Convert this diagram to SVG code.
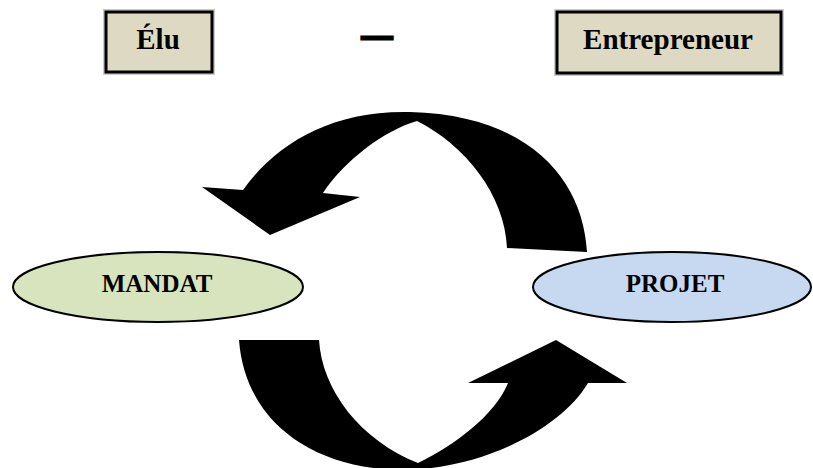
<svg xmlns="http://www.w3.org/2000/svg" width="813" height="468" viewBox="0 0 813 468">
<style>
.box{fill:#ddd9c3;stroke:#000;stroke-width:3}
.lbl{font-family:"Liberation Serif","Times New Roman",serif;font-weight:bold;fill:#000;text-anchor:middle}
.ell{stroke:#000;stroke-width:2}
.arr{fill:#000;stroke:none}
</style>
<rect width="813" height="468" fill="#fff"/>
<g id="elu">
<rect x="106" y="12" width="106" height="60" fill="none" stroke="#ccc" stroke-width="6"/>
<rect class="box" x="106" y="12" width="106" height="60"/>
<text class="lbl" x="158" y="49" font-size="29">Élu</text>
</g>
<g id="dash">
<text class="lbl" x="377" y="45" font-size="30" stroke="#000" stroke-width="3">—</text>
</g>
<g id="entrepreneur">
<rect x="557" y="12" width="224" height="61" fill="none" stroke="#ccc" stroke-width="6"/>
<rect class="box" x="557" y="12" width="224" height="61"/>
<text class="lbl" x="668" y="49" font-size="29" textLength="170" lengthAdjust="spacingAndGlyphs">Entrepreneur</text>
</g>
<g id="mandat">
<ellipse class="ell" cx="158" cy="287" rx="145" ry="35" fill="#d7e4bd"/>
<text class="lbl" x="157" y="292" font-size="25">MANDAT</text>
</g>
<g id="projet">
<ellipse class="ell" cx="672" cy="287" rx="139" ry="35" fill="#c6d9f1"/>
<text class="lbl" x="675" y="292" font-size="25">PROJET</text>
</g>
<g id="connectors">
<path class="arr" d="M507,248 L587,252 C583,180 530,115 410,112 C330,110 275,145 243,190 L202,187 L270,235 L360,197 L323,193 C345,160 385,130 417,121 C465,145 505,195 507,248 Z"/>
<path class="arr" d="M239,340 L319,340 C322,390 360,440 418,463 C455,445 495,415 508,383 L468,383 L556,340 L627,383 L588,383 C560,430 480,470 400,470 C310,468 245,420 239,340 Z"/>
</g>
</svg>
